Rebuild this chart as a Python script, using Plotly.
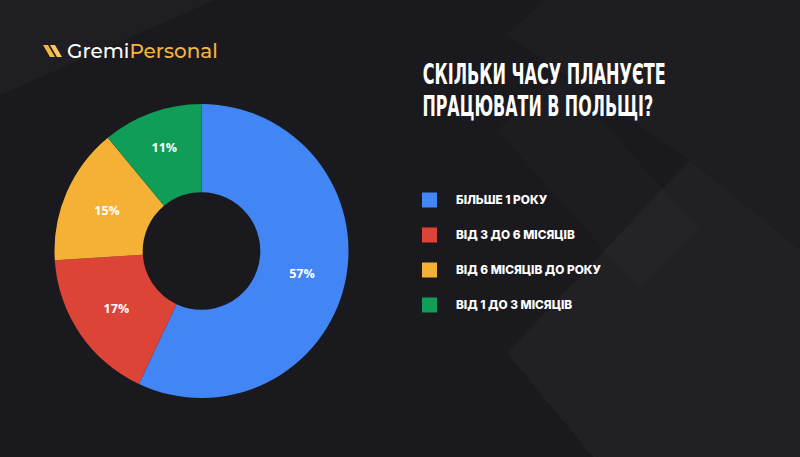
import json
import plotly.graph_objects as go

# ---- data ----
labels = ["БІЛЬШЕ 1 РОКУ", "ВІД 3 ДО 6 МІСЯЦІВ", "ВІД 6 МІСЯЦІВ ДО РОКУ", "ВІД 1 ДО 3 МІСЯЦІВ"]
values = [57, 17, 15, 11]
colors = ["#4285F4", "#DB4437", "#F4B136", "#0F9D58"]
title_lines = ["СКІЛЬКИ ЧАСУ ПЛАНУЄТЕ", "ПРАЦЮВАТИ В ПОЛЬЩІ?"]
title_widths = [243, 231]

W, H = 800, 457
BG = "#1a191e"

fig = go.Figure()
fig.add_trace(go.Pie(
    labels=labels, values=values, sort=False, direction="clockwise", rotation=0,
    hole=0.4, marker=dict(colors=colors, line=dict(width=0)),
    texttemplate="%{value}%", textposition="inside", insidetextorientation="horizontal",
    textfont=dict(family="Open Sans", size=12.5, color="white", weight=700),
    domain=dict(x=[54.5 / W, 348.5 / W], y=[(H - 398) / H, (H - 104) / H]),
    showlegend=False, hoverinfo="label+percent",
))

shapes = []
# subtle background geometry
bgpolys = [
    ("M0,0 L215,0 L0,95 Z", "rgba(255,255,255,0.025)"),
    ("M507,35 L545,0 L800,0 L800,250 L690,160 Z", "rgba(255,255,255,0.018)"),
    ("M497,130 L560,75 L700,230 L640,290 Z", "rgba(255,255,255,0.015)"),
    ("M507,353 L690,160 L800,250 L800,457 L593,457 Z", "rgba(255,255,255,0.03)"),
]
for p, c in bgpolys:
    shapes.append(dict(type="path", xref="x", yref="y", path=p, fillcolor=c, line=dict(width=0), layer="below"))

# logo icon bars
shapes.append(dict(type="path", xref="x", yref="y", path="M43,45 L48,45 L55,57 L50,57 Z", fillcolor="#F4B53F", line=dict(width=0)))
shapes.append(dict(type="path", xref="x", yref="y", path="M50,45 L55,45 L62,57 L57,57 Z", fillcolor="#F7C766", line=dict(width=0)))

annotations = []
annotations.append(dict(xref="x", yref="y", x=65, y=51, xanchor="left", yanchor="middle", showarrow=False,
                        text="Gremi<span style='color:#F4B53F'>Personal</span>",
                        font=dict(family="Montserrat, Lato, Open Sans", size=20, color="white", weight=500)))

# title (horizontally condensed to the look of the original)
title_left = 422.7
for i, line in enumerate(title_lines):
    annotations.append(dict(xref="x", yref="y", x=title_left + title_widths[i] / 2, y=74 + 32.5 * i,
                            xanchor="center", yanchor="middle", showarrow=False, text=line,
                            font=dict(family="DejaVu Sans Condensed", size=28, color="white", weight=700)))

# legend
for i, (lab, col) in enumerate(zip(labels, colors)):
    yc = 200 + 35 * i
    shapes.append(dict(type="rect", xref="x", yref="y", x0=422, x1=437, y0=yc - 7.5, y1=yc + 7.5,
                       fillcolor=col, line=dict(width=0)))
    annotations.append(dict(xref="x", yref="y", x=454, y=yc, xanchor="left", yanchor="middle", showarrow=False,
                            text=lab, font=dict(family="Inter", size=11.8, color="white", weight=800)))

fig.update_layout(
    width=W, height=H, margin=dict(l=0, r=0, t=0, b=0),
    paper_bgcolor=BG, plot_bgcolor=BG,
    xaxis=dict(range=[0, W], visible=False, fixedrange=True),
    yaxis=dict(range=[H, 0], visible=False, fixedrange=True),
    shapes=shapes, annotations=annotations,
)

targets = json.dumps(dict(zip(title_lines, title_widths)), ensure_ascii=False)
post = """
var gd = document.getElementById('{plot_id}');
var tw = %s;
gd.querySelectorAll('g.annotation').forEach(function(g){
  var t = g.querySelector('text.annotation-text');
  if (!t) return;
  var s = t.textContent;
  if (tw[s] === undefined) return;
  var inner = t.parentNode;
  var bb = t.getBBox();
  var k = tw[s] / bb.width;
  var cx = bb.x + bb.width / 2;
  var rect = inner.querySelector('rect.bg');
  [t, rect].forEach(function(el){
    if (!el) return;
    el.setAttribute('transform', 'translate(' + cx + ',0) scale(' + k + ',1) translate(' + (-cx) + ',0)');
  });
});
""" % targets
fig.write_html("out.html", post_script=post)
